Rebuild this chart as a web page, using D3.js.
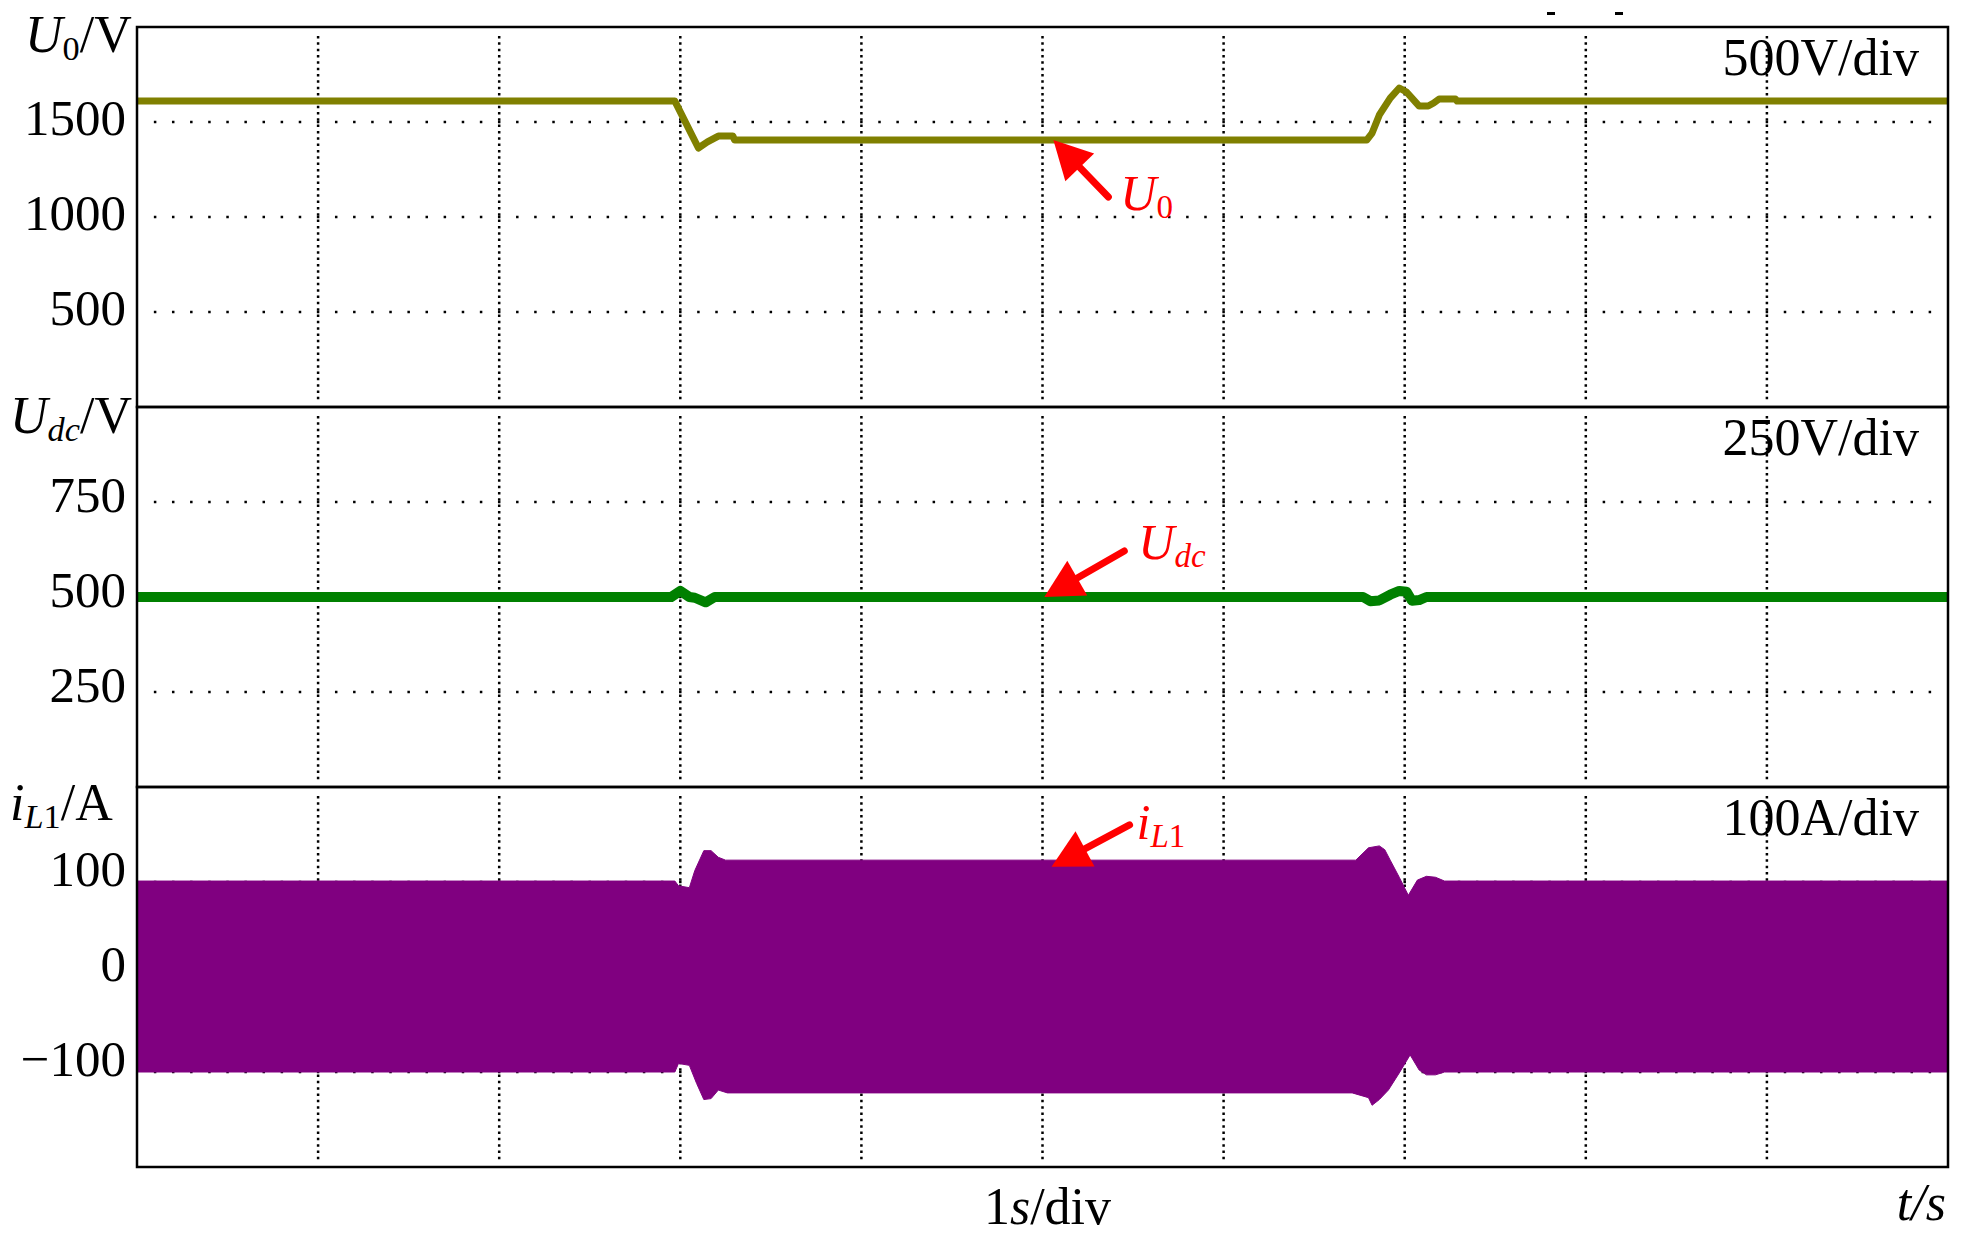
<!DOCTYPE html>
<html>
<head>
  <meta charset="utf-8">
  <script src="https://cdn.jsdelivr.net/npm/d3@7"></script>
  <style>
    body { margin: 0; background: #fff; }
    svg text { font-family: "Liberation Serif", "Times New Roman", serif; }
  </style>
</head>
<body>
<script>
  "use strict";

  // time base, 1 s/div
  var tDomain = [0, 10];
  var tGrid = [1, 2, 3, 4, 5, 6, 7, 8, 9];

  // U0 (V)
  var u0Time = [0, 2.97, 3.10, 3.15, 3.21, 3.29, 3.30, 6.79, 6.82, 6.86, 6.92, 6.97, 7.01, 7.06, 7.08, 7.13, 7.16, 7.19, 7.28, 7.29, 10];
  var u0Volt = [1610, 1610, 1363, 1395, 1426, 1426, 1405, 1405, 1442, 1537, 1626, 1679, 1658, 1605, 1584, 1584, 1600, 1621, 1621, 1610, 1610];

  // Udc (V)
  var udcTime = [0, 2.95, 3.00, 3.05, 3.08, 3.14, 3.19, 6.77, 6.81, 6.86, 6.92, 6.97, 7.01, 7.04, 7.08, 7.12, 10];
  var udcVolt = [500, 500, 516, 500, 498, 486, 500, 500, 489, 491, 506, 516, 514, 490, 492, 500, 500];

  // iL1 envelope (A), upper and lower edge of the switching band
  var iUpTime = [0, 2.97, 2.99, 3.05, 3.08, 3.13, 3.17, 3.21, 3.25, 6.73, 6.80, 6.86, 6.89, 6.92, 6.97, 7.02, 7.07, 7.12, 7.17, 7.22, 10];
  var iUpAmp  = [101, 101, 96, 94, 112, 133, 133, 126, 123, 123, 136, 138, 134, 123, 105, 86, 102, 106, 105, 101, 101];
  var iLoTime = [0, 2.97, 2.99, 3.05, 3.09, 3.13, 3.17, 3.21, 3.26, 6.71, 6.80, 6.82, 6.86, 6.91, 6.97, 7.03, 7.08, 7.12, 7.17, 7.22, 10];
  var iLoAmp  = [-100, -100, -91, -93, -112, -129, -128, -119, -122, -122, -127, -135, -129, -119, -101, -82, -98, -103, -103, -100, -100];

  // tick labels per panel
  var u0Ticks = [1500, 1000, 500];
  var udcTicks = [750, 500, 250];
  var iTicks = [100, 0, -100];

  var width = 1965, height = 1244;
  var left = 137, right = 1948, panelH = 380;

  var svg = d3.select("body").append("svg")
      .attr("width", width)
      .attr("height", height);

  var x = d3.scaleLinear().domain(tDomain).range([left, right]);

  svg.append("defs").append("clipPath").attr("id", "plotclip")
    .append("rect")
      .attr("x", left).attr("y", 27)
      .attr("width", right - left).attr("height", panelH * 3);

  var panels = [
    { top: 27,  domain: [0, 2000],   ticks: u0Ticks,  div: "500V/div", labelDy: 12,
      title: [["U", "i"], ["0", "sub"], ["/V", ""]], titleX: 25, titleDy: 25 },
    { top: 407, domain: [0, 1000],   ticks: udcTicks, div: "250V/div", labelDy: 9,
      title: [["U", "i"], ["dc", "isub"], ["/V", ""]], titleX: 10, titleDy: 26 },
    { top: 787, domain: [-200, 200], ticks: iTicks,   div: "100A/div", labelDy: 3,
      title: [["i", "i"], ["L", "isub"], ["1", "sub"], ["/A", ""]], titleX: 10, titleDy: 33 }
  ];

  panels.forEach(function (p) {
    p.y = d3.scaleLinear().domain(p.domain).range([p.top + panelH, p.top]);
  });

  // text with italic parts and subscripts
  function richText(g, px, py, parts, size, color) {
    var t = g.append("text")
        .attr("x", px).attr("y", py)
        .attr("font-size", size)
        .attr("fill", color);
    var down = false;
    parts.forEach(function (p) {
      var sub = p[1].indexOf("sub") >= 0;
      var s = t.append("tspan").text(p[0]);
      if (p[1].indexOf("i") === 0) s.attr("font-style", "italic");
      if (sub) s.attr("font-size", size * 0.66);
      if (sub && !down) { s.attr("dy", size * 0.16); down = true; }
      if (!sub && down) { s.attr("dy", -size * 0.16); down = false; }
    });
    return t;
  }

  /*
    grid
  */
  var grid = svg.append("g").attr("class", "grid");
  panels.forEach(function (p) {
    grid.selectAll(null)
      .data(tGrid)
      .enter().append("line")
        .attr("x1", function (d) { return x(d); })
        .attr("x2", function (d) { return x(d); })
        .attr("y1", p.top + 9)
        .attr("y2", p.top + panelH - 7)
        .attr("stroke", "#000")
        .attr("stroke-width", 2.5)
        .attr("stroke-dasharray", "2.5 3.83");

    var step = (right - left) / 100;
    grid.selectAll(null)
      .data(p.ticks)
      .enter().append("line")
        .attr("x1", left + step - 1.25)
        .attr("x2", right - step + 1.25)
        .attr("y1", function (d) { return p.y(d); })
        .attr("y2", function (d) { return p.y(d); })
        .attr("stroke", "#000")
        .attr("stroke-width", 2.5)
        .attr("stroke-dasharray", "2.5 " + (step - 2.5));
  });

  /*
    traces
  */
  var traces = svg.append("g").attr("clip-path", "url(#plotclip)");

  var u0Line = d3.line()
      .x(function (d, i) { return x(u0Time[i]); })
      .y(function (d) { return panels[0].y(d); });
  traces.append("path")
    .attr("d", u0Line(u0Volt))
    .attr("fill", "none")
    .attr("stroke", "#808000")
    .attr("stroke-width", 7)
    .attr("stroke-linejoin", "round");

  var udcLine = d3.line()
      .x(function (d, i) { return x(udcTime[i]); })
      .y(function (d) { return panels[1].y(d); });
  traces.append("path")
    .attr("d", udcLine(udcVolt))
    .attr("fill", "none")
    .attr("stroke", "#008000")
    .attr("stroke-width", 10)
    .attr("stroke-linejoin", "round");

  var band = iUpTime.map(function (t, i) { return [x(t), panels[2].y(iUpAmp[i])]; })
    .concat(iLoTime.map(function (t, i) { return [x(t), panels[2].y(iLoAmp[i])]; }).reverse());
  traces.append("path")
    .attr("d", d3.line()(band) + "Z")
    .attr("fill", "#800080")
    .attr("stroke", "#800080")
    .attr("stroke-width", 1);

  /*
    frame, tick labels, titles
  */
  var fmt = function (d) { return d < 0 ? "\u2212" + (-d) : String(d); };

  panels.forEach(function (p) {
    svg.append("rect")
      .attr("x", left).attr("y", p.top)
      .attr("width", right - left).attr("height", panelH)
      .attr("fill", "none")
      .attr("stroke", "#000")
      .attr("stroke-width", 2.5);

    var ax = svg.append("g")
        .attr("transform", "translate(" + left + ",0)")
        .call(d3.axisLeft(p.y).tickValues(p.ticks).tickFormat(fmt).tickSize(0).tickPadding(11));
    ax.select(".domain").remove();
    ax.attr("font-size", 51).attr("font-family", null);
    ax.selectAll("text")
      .attr("fill", "#000")
      .attr("dy", p.labelDy);

    richText(svg, p.titleX, p.top + p.titleDy, p.title, 52, "#000");

    svg.append("text")
      .attr("x", 1919).attr("y", p.top + 48)
      .attr("text-anchor", "end")
      .attr("font-size", 52)
      .text(p.div);
  });

  var bottomLabel = svg.append("text")
      .attr("x", x(5) + 5).attr("y", 1224)
      .attr("text-anchor", "middle")
      .attr("font-size", 52);
  bottomLabel.append("tspan").text("1");
  bottomLabel.append("tspan").attr("font-style", "italic").text("s");
  bottomLabel.append("tspan").text("/div");

  svg.append("text")
    .attr("x", 1946).attr("y", 1220)
    .attr("text-anchor", "end")
    .attr("font-size", 52)
    .attr("font-style", "italic")
    .text("t/s");

  // two stray marks above the frame
  svg.selectAll(null)
    .data([1547, 1615])
    .enter().append("rect")
      .attr("x", function (d) { return d; })
      .attr("y", 12)
      .attr("width", 8).attr("height", 3)
      .attr("fill", "#000");

  /*
    red arrows pointing at each trace
  */
  var notes = [
    { t: 5.06, v: 1405, p: 0, dx: 55, dy: 57, lx: 67, ly: 70, label: [["U", "i"], ["0", "sub"]] },
    { t: 5.01, v: 500,  p: 1, dx: 80, dy: -46, lx: 94, ly: -38, label: [["U", "i"], ["dc", "isub"]] },
    { t: 5.05, v: 116,  p: 2, dx: 78, dy: -42, lx: 85, ly: -28, label: [["i", "i"], ["L", "isub"], ["1", "sub"]] }
  ];

  notes.forEach(function (n) {
    var tip = [x(n.t), panels[n.p].y(n.v)];
    var len = Math.sqrt(n.dx * n.dx + n.dy * n.dy);
    var u = [n.dx / len, n.dy / len], nn = [-u[1], u[0]];
    var hl = 38, hw = 20;
    var base = [tip[0] + u[0] * hl, tip[1] + u[1] * hl];

    svg.append("line")
      .attr("x1", base[0] - u[0] * 4).attr("y1", base[1] - u[1] * 4)
      .attr("x2", tip[0] + n.dx).attr("y2", tip[1] + n.dy)
      .attr("stroke", "#ff0000")
      .attr("stroke-width", 7)
      .attr("stroke-linecap", "round");

    svg.append("path")
      .attr("d", d3.line()([tip,
        [base[0] + nn[0] * hw, base[1] + nn[1] * hw],
        [base[0] - nn[0] * hw, base[1] - nn[1] * hw]]) + "Z")
      .attr("fill", "#ff0000");

    richText(svg, tip[0] + n.lx, tip[1] + n.ly, n.label, 50, "#ff0000");
  });
</script>
</body>
</html>
